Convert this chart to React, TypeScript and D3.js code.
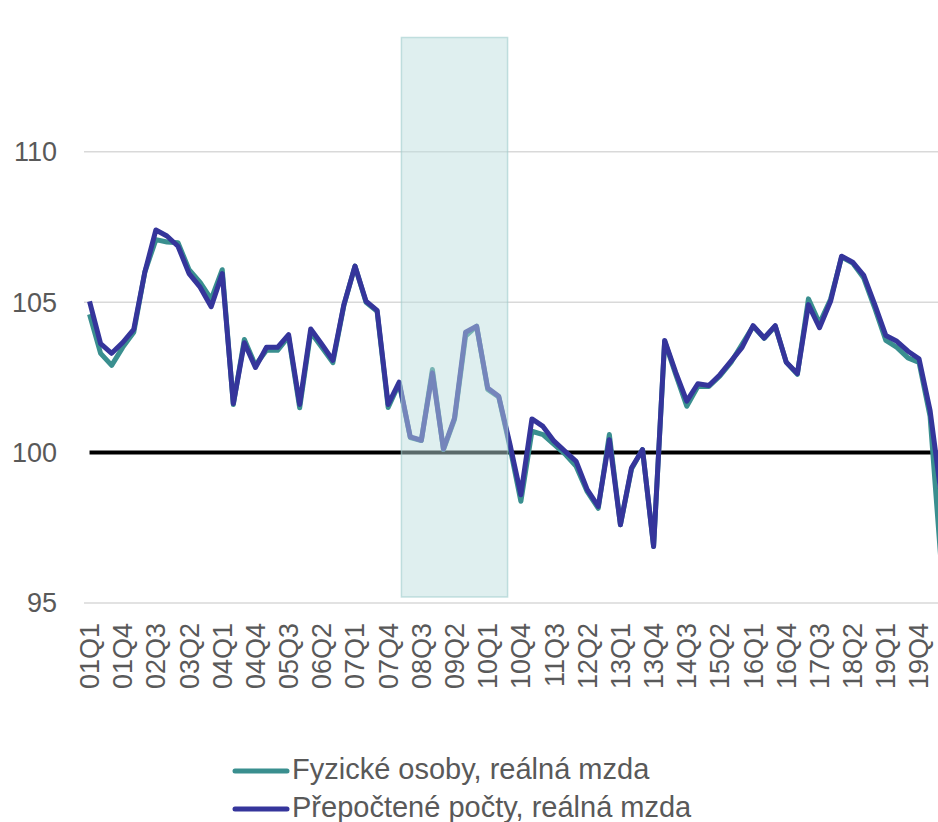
import React from "react";
import * as d3 from "d3";

// Categories: quarters 01Q1 .. 20Q2
const quarters: string[] = [];
for (let yr = 1; yr <= 20; yr++) {
  for (let q = 1; q <= 4; q++) quarters.push(`${String(yr).padStart(2, "0")}Q${q}`);
}
const categories = quarters.slice(0, 78);

const fyzickeOsoby = [
  104.6, 103.3, 102.9, 103.5, 104.0, 106.0, 107.08, 107.0, 106.98, 106.08,
  105.66, 105.1, 106.08, 101.6, 103.76, 102.9, 103.4, 103.4, 103.85, 101.49,
  104.0, 103.5, 102.99, 104.9, 106.2, 105.0, 104.7, 101.5, 102.3, 100.5,
  100.4, 102.76, 100.1, 101.1, 103.87, 104.2, 102.1, 101.85, 100.2, 98.38,
  100.71, 100.6, 100.27, 99.95, 99.54, 98.7, 98.15, 100.6, 97.6, 99.45,
  100.1, 96.88, 103.7, 102.6, 101.54, 102.2, 102.2, 102.55, 103.0, 103.6,
  104.2, 103.8, 104.2, 103.0, 102.6, 105.11, 104.3, 105.1, 106.5, 106.3,
  105.8, 104.8, 103.73, 103.5, 103.15, 103.0, 101.2, 96.3,
];

const prepoctenePocty = [
  105.03, 103.62, 103.3, 103.66, 104.1, 106.0, 107.4, 107.2, 106.86, 105.95,
  105.5, 104.85, 105.95, 101.63, 103.65, 102.83, 103.5, 103.5, 103.92, 101.6,
  104.11, 103.6, 103.07, 104.92, 106.2, 105.03, 104.73, 101.6, 102.34, 100.52,
  100.41, 102.65, 100.12, 101.15, 104.0, 104.2, 102.15, 101.87, 100.3, 98.6,
  101.12, 100.87, 100.38, 100.04, 99.71, 98.77, 98.21, 100.43, 97.6, 99.49,
  100.1, 96.88, 103.73, 102.67, 101.71, 102.29, 102.23, 102.59, 103.04, 103.5,
  104.22, 103.81, 104.22, 103.0, 102.63, 104.92, 104.15, 105.03, 106.53, 106.33,
  105.89, 104.92, 103.89, 103.7, 103.37, 103.12, 101.4, 98.6,
];

const tickLabels = [
  "01Q1", "01Q4", "02Q3", "03Q2", "04Q1", "04Q4", "05Q3", "06Q2", "07Q1",
  "07Q4", "08Q3", "09Q2", "10Q1", "10Q4", "11Q3", "12Q2", "13Q1", "13Q4",
  "14Q3", "15Q2", "16Q1", "16Q4", "17Q3", "18Q2", "19Q1", "19Q4",
];
const yTicks = [95, 100, 105, 110];
const referenceLevel = 100;
const shadeFrom = "08Q1";
const shadeTo = "10Q3";
const shadeRange = [95.2, 113.8];

const seriesNames = ["Fyzické osoby, reálná mzda", "Přepočtené počty, reálná mzda"];
const seriesColors = ["#3a8f8f", "#35359b"];

export default function App() {
  const W = 938;
  const H = 822;
  const bandW = 11.06;
  const left = 84;
  const x = d3
    .scaleBand<string>()
    .domain(categories)
    .range([left, left + categories.length * bandW])
    .paddingInner(0)
    .paddingOuter(0);
  const bw = x.bandwidth();
  const cx = (c: string) => (x(c) as number) + bw / 2;
  const y = d3.scaleLinear().domain([95, 115]).range([603, 1.4]);

  const line = d3
    .line<number>()
    .x((_, i) => cx(categories[i]))
    .y((d) => y(d));

  const font = "'Liberation Sans', Arial, sans-serif";
  const textColor = "#595959";

  const shadeX0 = cx(shadeFrom) + 0.2 * bw;
  const shadeX1 = cx(shadeTo) - 0.2 * bw;

  return (
    <svg
      width={W}
      height={H}
      style={{ position: "absolute", left: 0, top: 0, background: "#fff" }}
      fontFamily={font}
    >
      {/* gridlines */}
      {yTicks
        .filter((t) => t !== referenceLevel)
        .map((t) => (
          <line
            key={t}
            x1={left}
            x2={W + 20}
            y1={y(t)}
            y2={y(t)}
            stroke="#d9d9d9"
            strokeWidth={1.5}
          />
        ))}
      {/* y tick labels */}
      {yTicks.map((t) => (
        <text
          key={t}
          x={57}
          y={y(t)}
          dy="0.35em"
          textAnchor="end"
          fontSize={27}
          fill={textColor}
        >
          {t}
        </text>
      ))}
      {/* reference line at 100 */}
      <line
        x1={cx(categories[0])}
        x2={cx(categories[categories.length - 1])}
        y1={y(referenceLevel)}
        y2={y(referenceLevel)}
        stroke="#000"
        strokeWidth={4}
      />
      {/* series */}
      <path
        d={line(fyzickeOsoby) || ""}
        fill="none"
        stroke={seriesColors[0]}
        strokeWidth={5}
        strokeLinejoin="round"
      />
      <path
        d={line(prepoctenePocty) || ""}
        fill="none"
        stroke={seriesColors[1]}
        strokeWidth={5}
        strokeLinejoin="round"
      />
      {/* shaded period */}
      <rect
        x={shadeX0}
        y={y(shadeRange[1])}
        width={shadeX1 - shadeX0}
        height={y(shadeRange[0]) - y(shadeRange[1])}
        fill="rgb(188,222,222)"
        fillOpacity={0.48}
        stroke="rgb(160,205,205)"
        strokeOpacity={0.6}
        strokeWidth={1.5}
      />
      {/* x tick labels */}
      {tickLabels.map((lab) => (
        <text
          key={lab}
          transform={`translate(${cx(lab)},623) rotate(-90)`}
          dy="0.35em"
          textAnchor="end"
          fontSize={27}
          fill={textColor}
        >
          {lab}
        </text>
      ))}
      {/* legend */}
      {seriesNames.map((name, i) => {
        const ly = [771, 809][i];
        return (
          <g key={name}>
            <line
              x1={235}
              x2={287}
              y1={ly}
              y2={ly}
              stroke={seriesColors[i]}
              strokeWidth={5}
              strokeLinecap="round"
            />
            <text x={292} y={ly + 8} fontSize={29} fill={textColor}>
              {name}
            </text>
          </g>
        );
      })}
    </svg>
  );
}
